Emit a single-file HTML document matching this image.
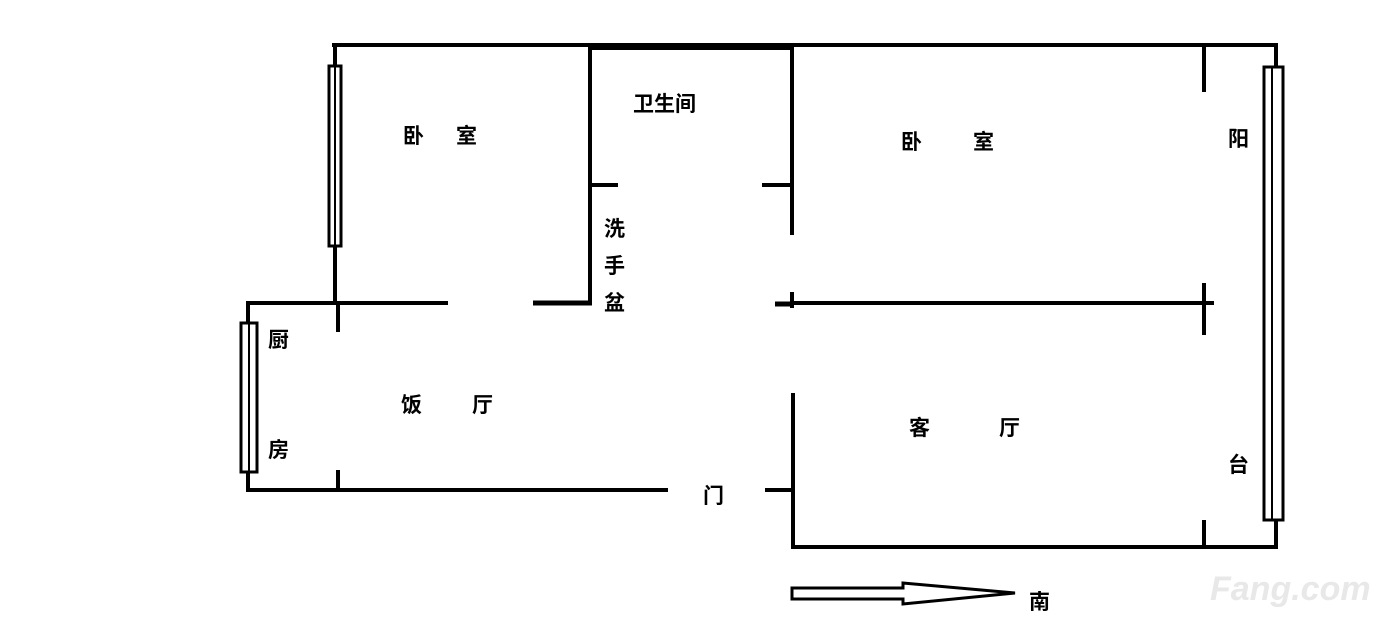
<!DOCTYPE html>
<html><head><meta charset="utf-8"><style>
html,body{margin:0;padding:0;background:#fff;}
svg{display:block;}
text{font-family:"Liberation Sans","Noto Sans CJK SC",sans-serif;font-weight:bold;font-size:21px;fill:#000;}
</style></head><body>
<svg width="1400" height="625" viewBox="0 0 1400 625" xmlns="http://www.w3.org/2000/svg">
<g stroke="#000" stroke-width="4" fill="none" stroke-linecap="butt">
<line x1="332" y1="45" x2="1278" y2="45"/>
<line x1="590" y1="47" x2="792" y2="47" stroke-width="6"/>
<line x1="335" y1="45" x2="335" y2="305"/>
<rect x="329" y="66" width="12" height="180" fill="#fff" stroke-width="3"/>
<line x1="335" y1="66" x2="335" y2="246" stroke-width="2"/>
<line x1="590" y1="47" x2="590" y2="305"/>
<line x1="792" y1="47" x2="792" y2="235"/>
<line x1="590" y1="185" x2="618" y2="185"/>
<line x1="762" y1="185" x2="792" y2="185"/>
<line x1="246" y1="303" x2="448" y2="303"/>
<line x1="533" y1="303" x2="592" y2="303" stroke-width="5"/>
<line x1="775" y1="304" x2="793" y2="304" stroke-width="5"/>
<line x1="792" y1="292" x2="792" y2="308"/>
<line x1="792" y1="303" x2="1214" y2="303"/>
<line x1="1204" y1="283" x2="1204" y2="335"/>
<line x1="1204" y1="45" x2="1204" y2="92"/>
<line x1="1204" y1="520" x2="1204" y2="548"/>
<line x1="1276" y1="45" x2="1276" y2="548"/>
<rect x="1264" y="67" width="19" height="453" fill="#fff" stroke-width="3"/>
<line x1="1272" y1="67" x2="1272" y2="520" stroke-width="2"/>
<line x1="793" y1="393" x2="793" y2="548"/>
<line x1="765" y1="490" x2="793" y2="490"/>
<line x1="791" y1="547" x2="1278" y2="547"/>
<line x1="248" y1="301" x2="248" y2="492"/>
<rect x="241" y="323" width="16" height="149" fill="#fff" stroke-width="3"/>
<line x1="249" y1="323" x2="249" y2="472" stroke-width="2"/>
<line x1="338" y1="303" x2="338" y2="332"/>
<line x1="338" y1="470" x2="338" y2="490"/>
<line x1="246" y1="490" x2="668" y2="490"/>
<polygon points="792,588 903,588 903,583 1015,593 903,604 903,599 792,599" stroke-width="3"/>
</g>
<text x="403" y="143">卧</text><text x="456" y="143">室</text>
<text x="633" y="111">卫生间</text>
<text x="604" y="236">洗</text><text x="604" y="273">手</text><text x="604" y="310">盆</text>
<text x="901" y="149">卧</text><text x="973" y="149">室</text>
<text x="1228" y="146">阳</text><text x="1228" y="472">台</text>
<text x="268" y="347">厨</text><text x="268" y="457">房</text>
<text x="401" y="412">饭</text><text x="472" y="412">厅</text>
<text x="909" y="435">客</text><text x="999" y="435">厅</text>
<text x="703" y="503">门</text>
<text x="1029" y="609">南</text>
<text x="1210" y="600" style="font-size:34px;fill:#e8e8e8;font-style:italic">Fang.com</text>
</svg>
</body></html>
